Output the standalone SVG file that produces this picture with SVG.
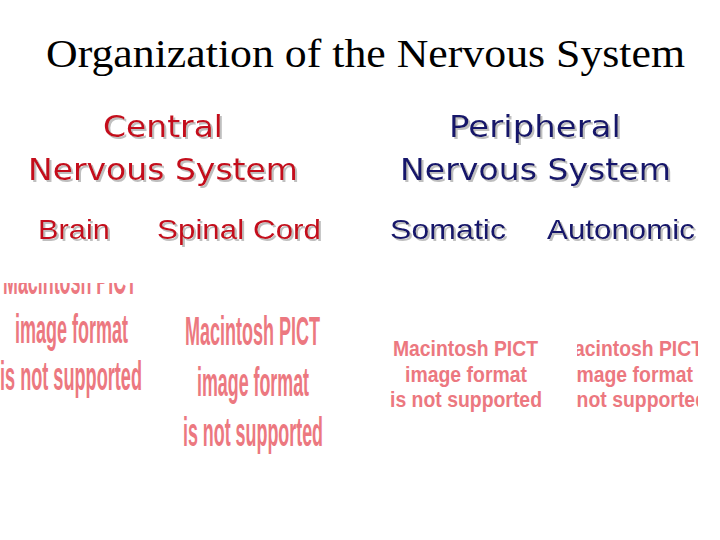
<svg xmlns="http://www.w3.org/2000/svg" width="720" height="540" viewBox="0 0 720 540">
<defs>
<filter id="sh" x="-5%" y="-20%" width="115%" height="150%">
<feDropShadow dx="2" dy="2" stdDeviation="0.6" flood-color="#b8b8b8" flood-opacity="0.9"/>
</filter>
<clipPath id="c1"><rect x="0" y="283" width="160" height="130"/></clipPath>
<clipPath id="c4"><rect x="577" y="330" width="121" height="90"/></clipPath>
</defs>
<style>
.title{font-family:"Liberation Serif","Times New Roman",serif;font-size:40px;fill:#000}
.hd{font-family:"Comic Sans MS","DejaVu Sans",sans-serif;font-size:30px;text-anchor:start}
.red{fill:#c4101c}
.blue{fill:#16166a}
.sub{font-family:"Liberation Sans",Arial,sans-serif;font-size:28px}
.pict{font-family:"Liberation Sans",Arial,sans-serif;font-weight:bold;fill:#ec7880}
.pb{font-size:40px}
.ps{font-size:22px}
</style>
<rect width="720" height="540" fill="#fff"/>
<text class="title" x="46" y="67" textLength="639" lengthAdjust="spacingAndGlyphs">Organization of the Nervous System</text>

<g id="cns" filter="url(#sh)">
<text class="hd red" x="103" y="137" textLength="120" lengthAdjust="spacingAndGlyphs">Central</text>
<text class="hd red" x="28" y="180" textLength="270" lengthAdjust="spacingAndGlyphs">Nervous System</text>
</g>
<g id="pns" filter="url(#sh)">
<text class="hd blue" x="449" y="137" textLength="172" lengthAdjust="spacingAndGlyphs">Peripheral</text>
<text class="hd blue" x="400" y="180" textLength="271" lengthAdjust="spacingAndGlyphs">Nervous System</text>
</g>
<g id="brain" filter="url(#sh)">
<text class="sub red" x="38" y="239" textLength="72" lengthAdjust="spacingAndGlyphs">Brain</text>
</g>
<g id="spinal" filter="url(#sh)">
<text class="sub red" x="157" y="239" textLength="164" lengthAdjust="spacingAndGlyphs">Spinal Cord</text>
</g>
<g id="somatic" filter="url(#sh)">
<text class="sub blue" x="390" y="239" textLength="116" lengthAdjust="spacingAndGlyphs">Somatic</text>
</g>
<g id="autonomic" filter="url(#sh)">
<text class="sub blue" x="547" y="239" textLength="148" lengthAdjust="spacingAndGlyphs">Autonomic</text>
</g>

<g id="pict1" clip-path="url(#c1)">
<text class="pict pb" x="3" y="294" textLength="134" lengthAdjust="spacingAndGlyphs">Macintosh PICT</text>
<text class="pict pb" x="15" y="343" textLength="113" lengthAdjust="spacingAndGlyphs">image format</text>
<text class="pict pb" x="0" y="390" textLength="142" lengthAdjust="spacingAndGlyphs">is not supported</text>
</g>
<g id="pict2">
<text class="pict pb" x="185" y="345" textLength="135" lengthAdjust="spacingAndGlyphs">Macintosh PICT</text>
<text class="pict pb" x="197" y="396" textLength="112" lengthAdjust="spacingAndGlyphs">image format</text>
<text class="pict pb" x="183" y="446" textLength="140" lengthAdjust="spacingAndGlyphs">is not supported</text>
</g>
<g id="pict3">
<text class="pict ps" x="393" y="356" textLength="145" lengthAdjust="spacingAndGlyphs">Macintosh PICT</text>
<text class="pict ps" x="405" y="382" textLength="122" lengthAdjust="spacingAndGlyphs">image format</text>
<text class="pict ps" x="390" y="407" textLength="152" lengthAdjust="spacingAndGlyphs">is not supported</text>
</g>
<g id="pict4" clip-path="url(#c4)">
<text class="pict ps" x="558" y="356" textLength="145" lengthAdjust="spacingAndGlyphs">Macintosh PICT</text>
<text class="pict ps" x="571" y="382" textLength="122" lengthAdjust="spacingAndGlyphs">image format</text>
<text class="pict ps" x="555" y="407" textLength="152" lengthAdjust="spacingAndGlyphs">is not supported</text>
</g>
</svg>
